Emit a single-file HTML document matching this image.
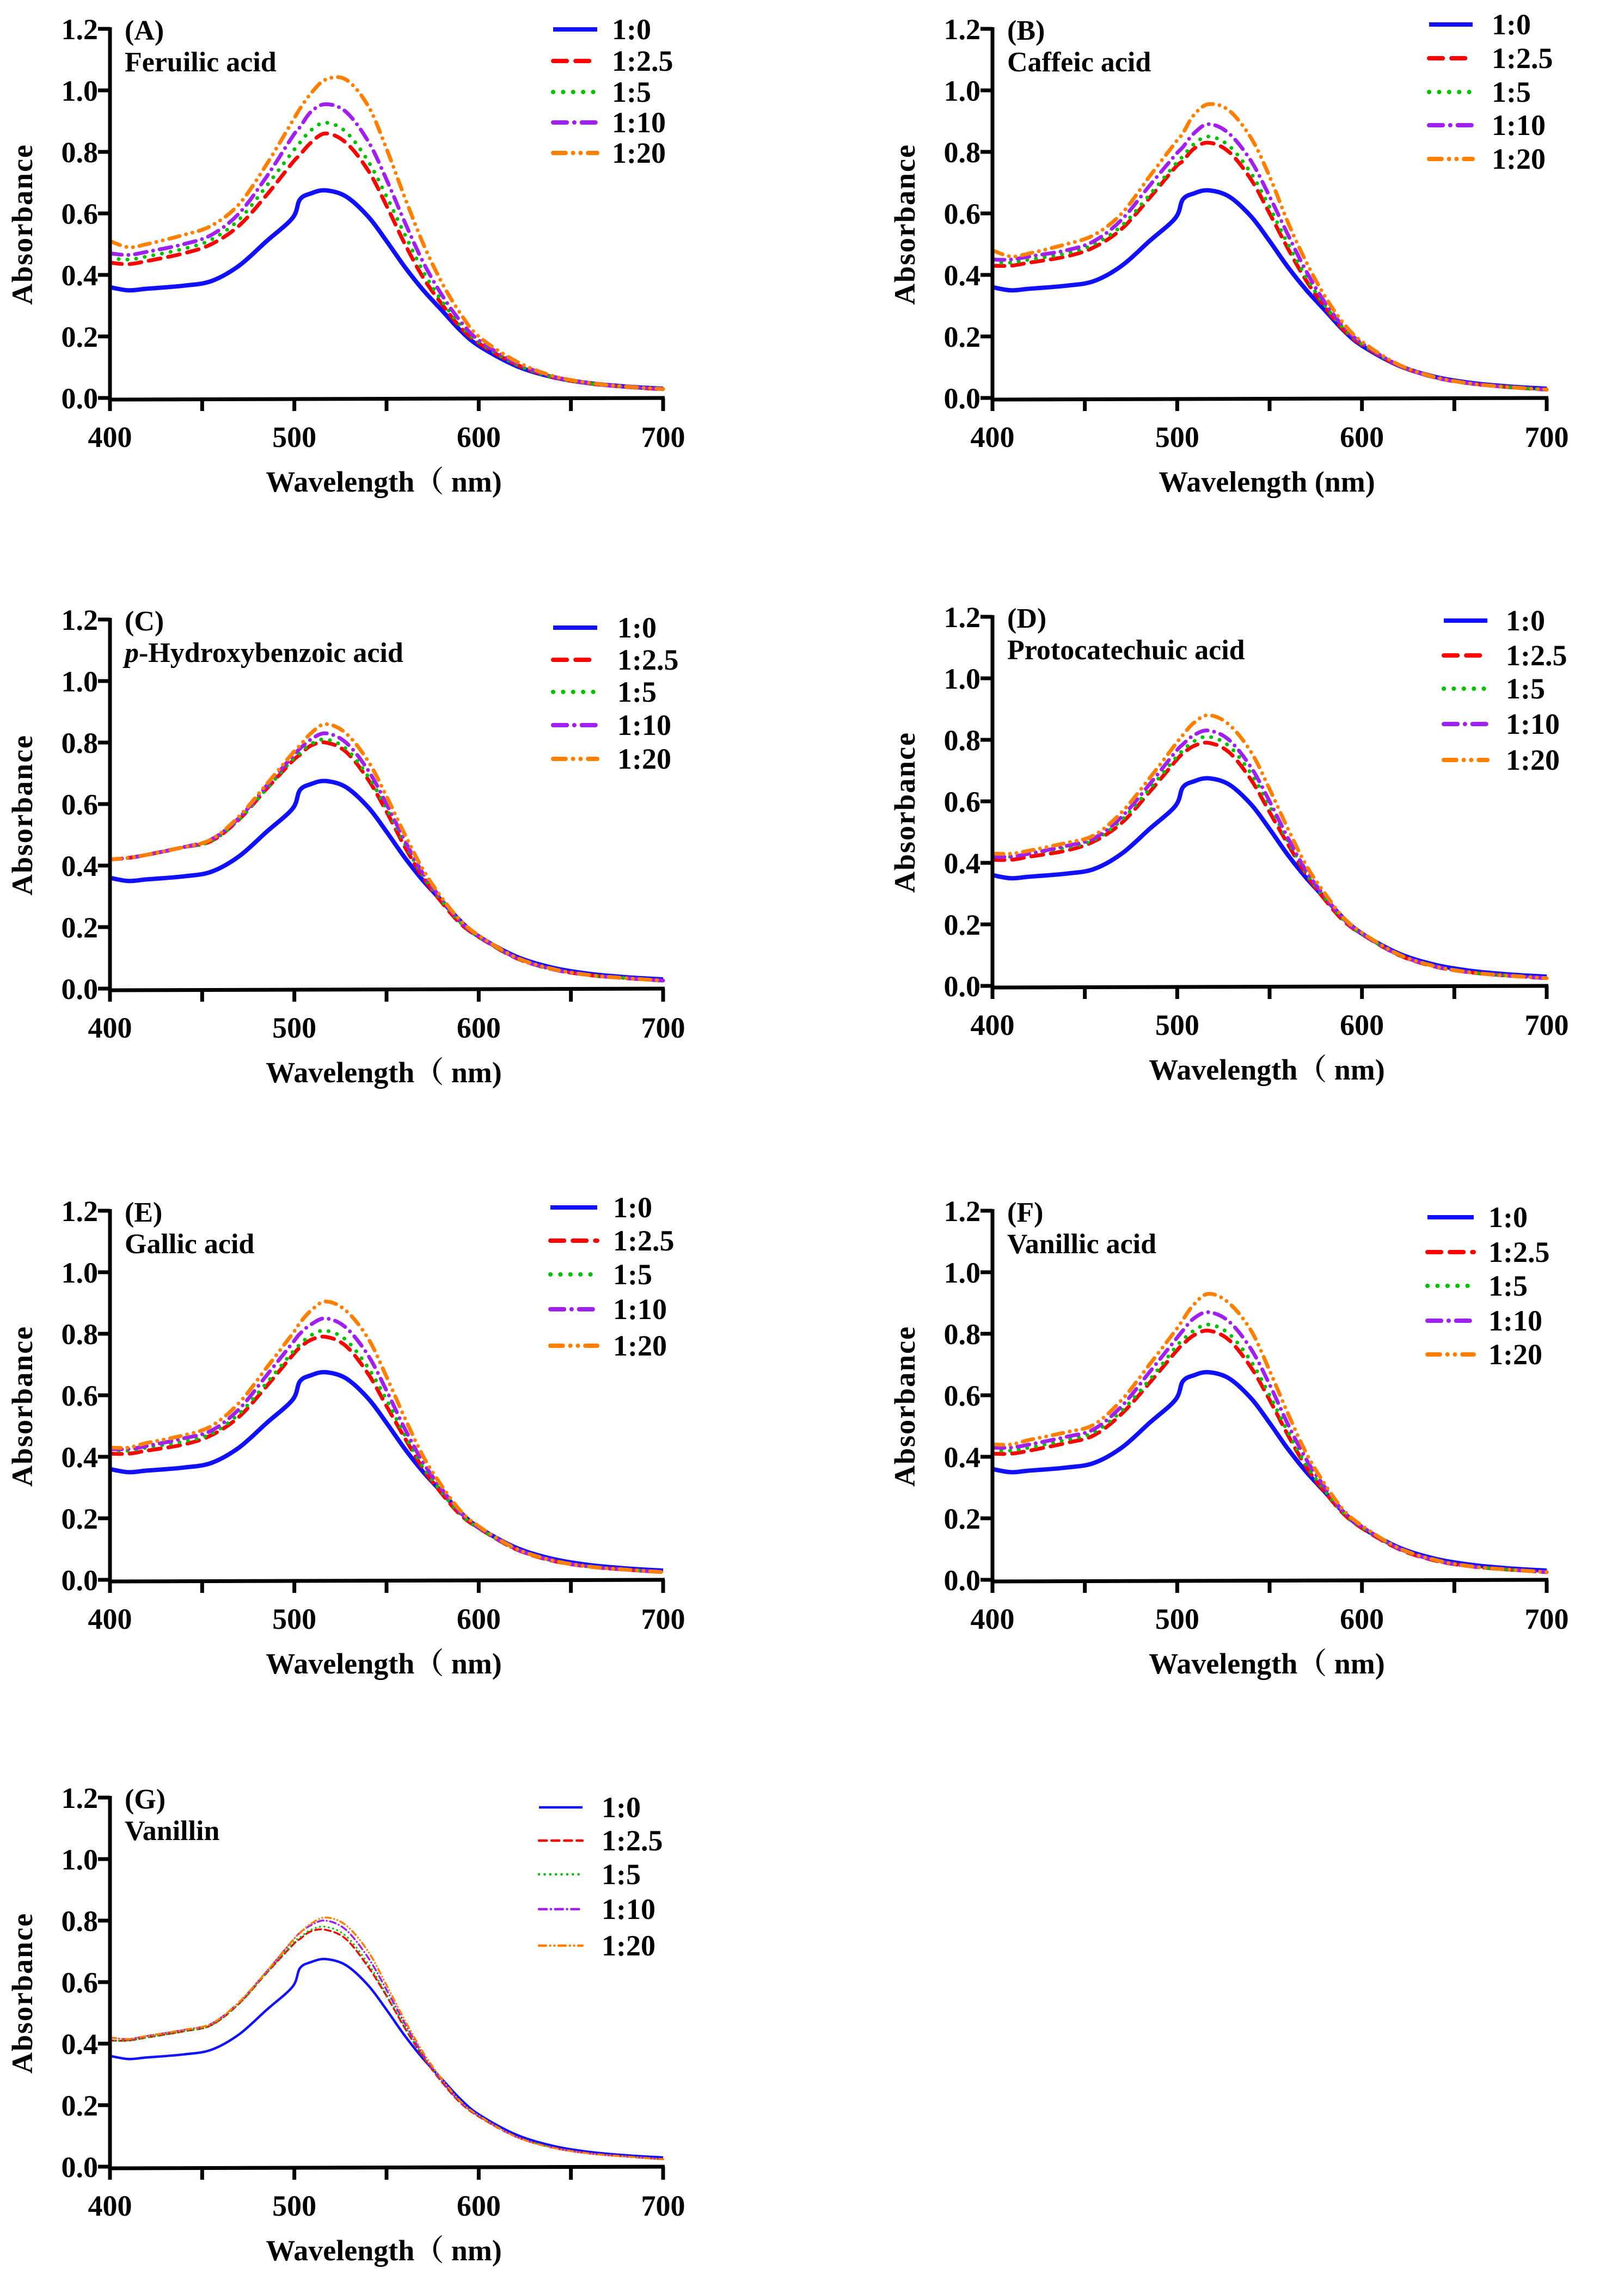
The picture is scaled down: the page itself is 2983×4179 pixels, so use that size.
<!DOCTYPE html>
<html><head><meta charset="utf-8">
<style>
html,body{margin:0;padding:0;background:#fff;}
svg{display:block;}
text{font-family:"Liberation Serif","Times New Roman","Noto Serif CJK SC",serif;font-weight:bold;fill:#000;}
</style></head>
<body>
<svg id="fig" width="2983" height="4179" viewBox="0 0 2983 4179" xmlns="http://www.w3.org/2000/svg"></svg>
<script>
// ---- data ----
const wavelengths = [400,410,420,440,455,470,485,499,503,509,517,528,540,550,560,570,580,590,600,620,640,660,680,700];
const seriesLabels = ["1:0","1:2.5","1:5","1:10","1:20"];
const xTicks = [400,500,600,700];
const yTicks = [0,0.2,0.4,0.6,0.8,1.0,1.2];
const yTickLabels = ["0.0","0.2","0.4","0.6","0.8","1.0","1.2"];
const control = [.36,.35,.355,.365,.38,.43,.51,.585,.645,.665,.675,.655,.59,.51,.425,.35,.285,.22,.17,.105,.068,.048,.037,.03];

const A_2_5 = [.44,.435,.445,.47,.50,.56,.66,.765,.79,.83,.86,.83,.74,.625,.50,.39,.305,.23,.178,.11,.068,.047,.036,.028];
const A_5   = [.455,.45,.46,.485,.515,.58,.69,.80,.83,.87,.895,.865,.77,.655,.53,.41,.315,.237,.182,.11,.068,.047,.036,.028];
const A_10  = [.47,.465,.475,.50,.53,.60,.72,.85,.88,.93,.955,.93,.835,.71,.57,.44,.335,.25,.188,.115,.07,.048,.036,.029];
const A_20  = [.51,.49,.50,.53,.56,.63,.76,.90,.94,.99,1.035,1.035,.95,.81,.65,.50,.375,.275,.20,.12,.072,.049,.037,.029];

const B_2_5 = [.43,.43,.44,.46,.49,.55,.65,.75,.77,.81,.83,.80,.71,.60,.485,.38,.295,.222,.173,.105,.066,.046,.035,.027];
const B_5   = [.44,.44,.45,.47,.50,.56,.66,.76,.785,.825,.85,.82,.73,.62,.50,.39,.30,.227,.175,.105,.066,.046,.035,.027];
const B_10  = [.45,.45,.46,.48,.51,.58,.69,.79,.815,.86,.89,.86,.77,.655,.53,.41,.31,.232,.178,.106,.066,.046,.035,.027];
const B_20  = [.48,.46,.47,.50,.53,.60,.72,.83,.86,.92,.955,.935,.845,.72,.57,.44,.33,.243,.183,.108,.067,.046,.035,.027];

const C_2_5 = [.42,.425,.435,.46,.48,.55,.65,.74,.76,.79,.80,.77,.68,.575,.46,.36,.28,.212,.168,.10,.063,.044,.034,.026];
const C_5   = [.42,.425,.435,.46,.48,.55,.65,.745,.765,.795,.81,.78,.69,.585,.47,.365,.285,.215,.168,.10,.063,.044,.034,.026];
const C_10  = [.42,.425,.435,.46,.485,.555,.66,.755,.78,.81,.83,.80,.71,.60,.48,.372,.29,.218,.17,.101,.063,.044,.034,.026];
const C_20  = [.42,.425,.435,.46,.485,.56,.665,.765,.79,.83,.86,.83,.74,.625,.50,.385,.295,.222,.173,.102,.064,.044,.034,.026];

const D_2_5 = [.41,.41,.42,.44,.47,.53,.63,.73,.755,.78,.79,.76,.67,.565,.46,.36,.28,.212,.168,.10,.062,.043,.033,.025];
const D_5   = [.42,.42,.43,.45,.475,.54,.64,.74,.765,.795,.81,.78,.69,.585,.47,.365,.285,.215,.168,.10,.062,.043,.033,.025];
const D_10  = [.42,.42,.43,.455,.48,.55,.655,.76,.785,.815,.83,.80,.71,.60,.48,.372,.29,.218,.17,.101,.063,.043,.033,.025];
const D_20  = [.43,.43,.44,.465,.49,.565,.675,.785,.815,.855,.88,.85,.76,.64,.51,.39,.30,.222,.173,.102,.063,.043,.033,.025];

const E_2_5 = [.41,.41,.42,.44,.47,.53,.63,.73,.755,.78,.79,.76,.67,.565,.46,.36,.28,.212,.168,.10,.062,.043,.033,.025];
const E_5   = [.42,.42,.43,.45,.475,.54,.64,.74,.765,.795,.81,.78,.69,.585,.47,.365,.285,.215,.168,.10,.062,.043,.033,.025];
const E_10  = [.425,.425,.435,.46,.485,.555,.665,.77,.80,.83,.85,.82,.73,.615,.49,.38,.295,.22,.171,.101,.063,.043,.033,.025];
const E_20  = [.43,.43,.445,.47,.50,.575,.69,.80,.835,.875,.905,.875,.785,.66,.525,.40,.305,.225,.174,.102,.063,.043,.033,.025];

const F_2_5 = [.41,.41,.42,.445,.47,.54,.64,.74,.765,.795,.81,.78,.69,.585,.47,.365,.285,.215,.168,.10,.062,.043,.033,.025];
const F_5   = [.42,.42,.43,.455,.48,.55,.65,.755,.78,.81,.83,.80,.71,.60,.48,.372,.29,.218,.17,.101,.063,.043,.033,.025];
const F_10  = [.43,.43,.44,.465,.49,.565,.675,.78,.81,.85,.87,.84,.75,.635,.505,.39,.30,.222,.173,.102,.063,.043,.033,.025];
const F_20  = [.44,.44,.455,.48,.505,.585,.70,.81,.845,.895,.93,.90,.81,.68,.54,.41,.31,.227,.176,.103,.064,.043,.033,.025];

const G_2_5 = [.41,.41,.42,.44,.46,.53,.63,.72,.74,.765,.77,.74,.65,.555,.45,.355,.275,.208,.163,.098,.062,.043,.033,.024];
const G_5   = [.41,.41,.42,.44,.46,.53,.63,.725,.745,.77,.78,.75,.66,.56,.455,.358,.277,.21,.164,.098,.062,.043,.033,.024];
const G_10  = [.42,.415,.425,.445,.465,.535,.635,.735,.76,.785,.80,.77,.68,.575,.465,.363,.28,.211,.165,.098,.062,.043,.033,.024];
const G_20  = [.42,.415,.425,.445,.465,.535,.635,.735,.76,.79,.81,.785,.70,.59,.475,.37,.285,.213,.166,.098,.062,.043,.033,.024];

// ---- layout ----
const NS = "http://www.w3.org/2000/svg";
const svg = document.getElementById('fig');
const colors = ["#1010ff","#ff0000","#00c000","#a020f0","#ff8000"];
function mk(tag, attrs, parent){
  const e = document.createElementNS(NS, tag);
  for (const k in attrs) e.setAttribute(k, attrs[k]);
  (parent||svg).appendChild(e);
  return e;
}
const panels = [
  {id:"a", tag:"(A)", name:"Feruilic acid", data:[control,A_2_5,A_5,A_10,A_20], x0:202, x1:1218, y0:731, lg:{l1:1016,l2:1097,tx:1124,rows:[54,112,169,225,281]}, xt:"Wavelength（ nm)", lw:7},
  {id:"b", tag:"(B)", name:"Caffeic acid", data:[control,B_2_5,B_5,B_10,B_20], x0:1823, x1:2841, y0:731, lg:{l1:2625,l2:2705,tx:2740,rows:[45,107,169,230,292]}, xt:"Wavelength (nm)", lw:7},
  {id:"c", tag:"(C)", name:"p-Hydroxybenzoic acid", italicP:true, data:[control,C_2_5,C_5,C_10,C_20], x0:202, x1:1218, y0:1816, lg:{l1:1016,l2:1097,tx:1134,rows:[1153,1212,1271,1332,1394]}, xt:"Wavelength（ nm)", lw:7},
  {id:"d", tag:"(D)", name:"Protocatechuic acid", data:[control,D_2_5,D_5,D_10,D_20], x0:1823, x1:2841, y0:1811, lg:{l1:2652,l2:2732,tx:2766,rows:[1140,1204,1265,1330,1396]}, xt:"Wavelength（ nm)", lw:7},
  {id:"e", tag:"(E)", name:"Gallic acid", data:[control,E_2_5,E_5,E_10,E_20], x0:202, x1:1218, y0:2902, lg:{l1:1011,l2:1097,tx:1126,rows:[2218,2279,2341,2405,2472]}, xt:"Wavelength（ nm)", lw:7},
  {id:"f", tag:"(F)", name:"Vanillic acid", data:[control,F_2_5,F_5,F_10,F_20], x0:1823, x1:2841, y0:2902, lg:{l1:2622,l2:2707,tx:2734,rows:[2236,2300,2362,2426,2488]}, xt:"Wavelength（ nm)", lw:7},
  {id:"g", tag:"(G)", name:"Vanillin", data:[control,G_2_5,G_5,G_10,G_20], x0:202, x1:1218, y0:3980, lg:{l1:990,l2:1070,tx:1105,rows:[3320,3381,3443,3507,3574]}, xt:"Wavelength（ nm)", lw:3.5}
];
const YSPAN = 678;

function dashFor(i, lw){
  const s = lw/7;
  if (i===1) return (22*s)+" "+(14*s);
  if (i===2) return "0.1 "+(16*s);
  if (i===3) return (22*s)+" "+(12*s)+" 0.1 "+(12*s);
  if (i===4) return (20*s)+" "+(12*s)+" 0.1 "+(12*s)+" 0.1 "+(12*s);
  return "none";
}
function smoothPath(pts){
  let d = "M"+pts[0][0].toFixed(1)+","+pts[0][1].toFixed(1);
  for (let i=0;i<pts.length-1;i++){
    const p0=pts[Math.max(0,i-1)], p1=pts[i], p2=pts[i+1], p3=pts[Math.min(pts.length-1,i+2)];
    const c1x=p1[0]+(p2[0]-p0[0])/6, c1y=p1[1]+(p2[1]-p0[1])/6;
    const c2x=p2[0]-(p3[0]-p1[0])/6, c2y=p2[1]-(p3[1]-p1[1])/6;
    d += " C"+c1x.toFixed(1)+","+c1y.toFixed(1)+" "+c2x.toFixed(1)+","+c2y.toFixed(1)+" "+p2[0].toFixed(1)+","+p2[1].toFixed(1);
  }
  return d;
}

panels.forEach(p=>{
  const g = mk('g',{});
  
  
  const xs = v => p.x0 + (v-400)/300*(p.x1-p.x0);
  const ys = v => p.y0 - v/1.2*YSPAN;
  const ytop = ys(1.2);

  p.data.forEach((arr,i)=>{
    const pts = wavelengths.map((w,k)=>[xs(w), ys(arr[k])]);
    const path = mk('path',{d:smoothPath(pts), fill:"none", stroke:colors[i], "stroke-width":(i===0?p.lw+1:p.lw), "stroke-linecap":(i===0?"butt":"round"), "stroke-dasharray":dashFor(i,p.lw)}, g);
    
    
  });

  const ax = mk('path',{d:`M${p.x0},${ytop-3} L${p.x0},${p.y0+3} L${p.x1+3},${p.y0}`, fill:"none", stroke:"#000","stroke-width":7}, g);
  
  
  yTicks.forEach((t,k)=>{
    const y = ys(t);
    const tk = mk('line',{x1:p.x0-22,x2:p.x0,y1:y,y2:y,stroke:"#000","stroke-width":7}, g);
    
    
    const tl = mk('text',{x:p.x0-22,y:y+19,"text-anchor":"end","font-size":54}, g);
    tl.textContent = yTickLabels[k];
    
    
  });
  [400,450,500,550,600,650,700].forEach(t=>{
    const x = xs(t);
    const tk = mk('line',{x1:x,x2:x,y1:p.y0,y2:p.y0+24,stroke:"#000","stroke-width":7}, g);
    
    
  });
  xTicks.forEach(t=>{
    const tl = mk('text',{x:xs(t),y:p.y0+90,"text-anchor":"middle","font-size":54}, g);
    tl.textContent = String(t);
    
    
  });
  const xt = mk('text',{x:(p.x0+p.x1)/2 - 5,y:p.y0+172,"text-anchor":"middle","font-size":54}, g);
  xt.textContent = p.xt;
  
  
  const ycx = p.x0-143, ycy = (p.y0+ytop)/2 + 20;
  const yt = mk('text',{x:ycx,y:ycy,"text-anchor":"middle","font-size":54,transform:`rotate(-90 ${ycx} ${ycy})`,"letter-spacing":"2"}, g);
  yt.textContent = "Absorbance";
  
  

  const tg = mk('text',{x:p.x0+27,y:ytop+20,"font-size":52}, g);
  tg.textContent = p.tag;
  
  
  const tn = mk('text',{x:p.x0+27,y:ytop+78,"font-size":52}, g);
  if (p.italicP){
    const s1 = mk('tspan',{"font-style":"italic"}, tn); s1.textContent = "p";
    const s2 = mk('tspan',{}, tn); s2.textContent = "-Hydroxybenzoic acid";
  } else tn.textContent = p.name;
  
  

  const lg = mk('g',{}, g);
  
  
  seriesLabels.forEach((lab,i)=>{
    const y = p.lg.rows[i];
    const ln = mk('line',{x1:p.lg.l1,x2:p.lg.l2,y1:y,y2:y,stroke:colors[i],"stroke-width":p.lw+1,"stroke-linecap":(i===0?"butt":"round"),"stroke-dasharray":dashFor(i,p.lw+1)}, lg);
    
    
    const tx = mk('text',{x:p.lg.tx,y:y+18,"font-size":54}, lg);
    tx.textContent = lab;
    
    
  });
});
</script>
</body></html>
